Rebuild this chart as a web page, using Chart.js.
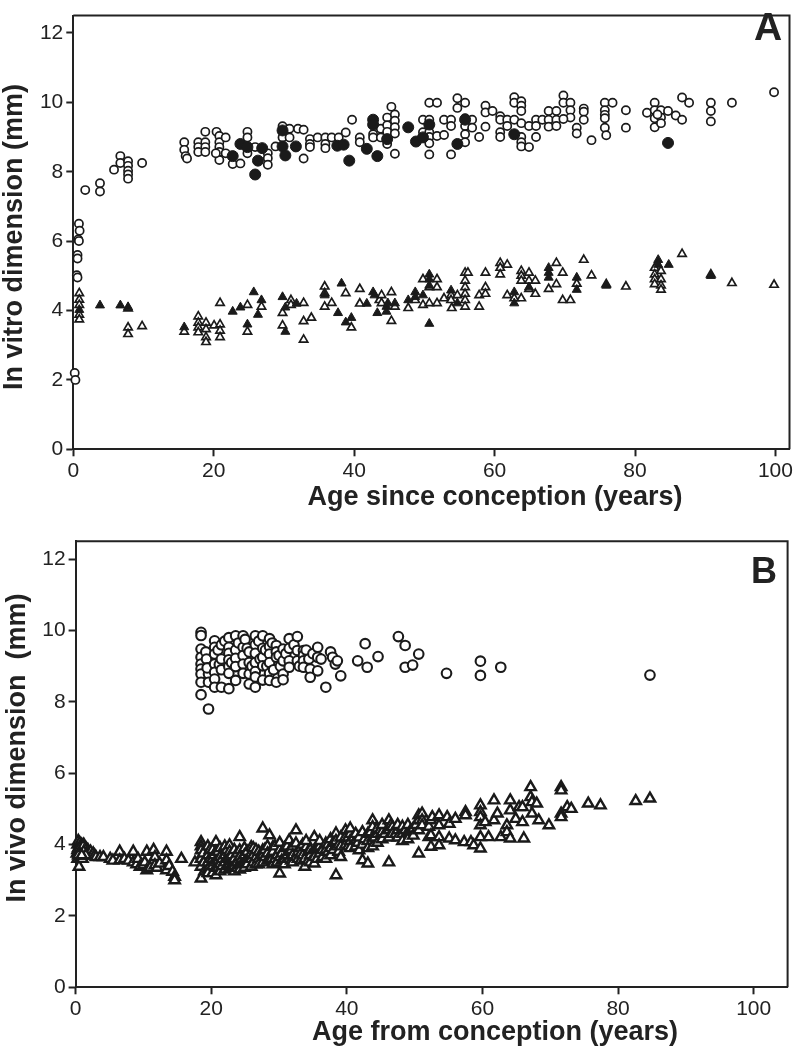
<!DOCTYPE html>
<html>
<head>
<meta charset="utf-8">
<script src="https://cdn.jsdelivr.net/npm/chart.js@4"></script>
<style>
  body { margin: 0; background: #fff; }
  canvas { position: absolute; left: 0; }
  #chartA { top: 0; }
  #chartB { top: 520px; }
</style>
</head>
<body>
<canvas id="chartA" width="796" height="515"></canvas>
<canvas id="chartB" width="796" height="530"></canvas>
<script>
/* panel A - in vitro, [age, mm] */
const vitroOpenCircles = [
  [0.8, 6.5], [0.9, 6.3], [0.7, 6.05], [0.8, 6.0], [0.6, 5.6], [0.6, 5.5], [0.5, 5.02], [0.6, 4.95], [0.2, 2.2], [0.3, 2.0],
  [1.7, 7.47], [3.8, 7.67], [3.8, 7.43], [5.8, 8.06], [6.7, 8.45], [6.7, 8.25], [7.8, 8.3], [7.8, 8.17], [7.8, 8.03], [7.8, 7.92], [7.8, 7.8], [9.8, 8.25],
  [15.8, 8.85], [15.8, 8.63], [16.0, 8.45], [16.2, 8.38],
  [17.8, 8.85], [17.8, 8.71], [17.8, 8.57], [18.8, 9.15], [18.8, 8.85], [18.8, 8.71], [18.8, 8.57],
  [20.4, 9.15], [20.8, 9.03], [20.8, 8.85], [20.8, 8.71], [20.8, 8.57], [20.8, 8.34], [20.3, 8.53], [21.7, 8.99], [21.7, 8.53],
  [22.7, 8.22], [23.8, 8.24],
  [24.8, 9.15], [24.8, 8.99], [24.8, 8.66], [24.8, 8.53], [25.9, 8.71],
  [27.7, 8.53], [27.7, 8.39], [27.7, 8.2], [28.8, 8.73],
  [29.8, 9.31], [29.8, 9.15], [29.8, 8.99], [30.8, 9.24], [30.8, 8.99], [32.0, 9.24], [32.8, 9.21], [32.8, 8.38],
  [33.7, 8.94], [33.7, 8.8], [33.7, 8.71], [34.8, 8.99], [35.9, 8.99], [35.9, 8.8], [35.9, 8.68], [36.8, 8.99],
  [37.8, 8.99], [38.8, 9.13], [39.7, 9.5], [40.8, 8.99], [40.8, 8.85],
  [42.7, 9.08], [42.7, 8.99], [43.8, 8.99], [43.8, 9.24], [44.7, 9.56], [44.7, 9.34], [44.7, 9.15], [44.7, 8.8],
  [45.3, 9.87], [45.8, 9.65], [45.8, 9.47], [45.8, 9.28], [45.8, 9.1], [45.8, 8.52],
  [49.8, 9.5], [49.8, 9.14], [50.7, 9.5], [50.7, 9.32], [50.7, 9.14], [50.7, 9.0], [50.7, 8.82], [50.7, 8.5], [50.7, 9.99], [51.8, 9.99], [51.8, 9.03],
  [52.8, 9.5], [53.8, 9.5], [53.8, 9.32], [52.8, 9.06], [53.8, 8.5],
  [54.7, 10.12], [55.8, 9.99], [54.7, 9.84], [55.8, 9.54], [55.8, 9.32], [55.8, 9.08], [55.8, 8.85], [56.8, 9.5], [56.8, 9.27],
  [57.8, 9.0], [58.7, 9.9], [58.7, 9.71], [59.7, 9.75], [58.7, 9.3],
  [60.8, 9.6], [60.8, 9.5], [60.8, 9.14], [60.8, 9.0], [61.8, 9.5], [61.8, 9.32], [62.8, 10.15], [62.8, 9.99], [62.8, 9.5],
  [63.8, 10.03], [63.8, 9.9], [63.8, 9.75], [63.8, 9.4], [63.8, 9.0], [63.8, 8.85], [63.8, 8.73],
  [64.9, 8.71], [64.9, 9.32], [65.9, 9.5], [65.9, 9.32], [65.9, 9.0],
  [66.8, 9.5], [67.7, 9.75], [67.7, 9.5], [67.7, 9.3], [68.8, 9.75], [68.8, 9.5], [68.8, 9.32],
  [69.8, 10.2], [69.8, 9.99], [70.8, 9.99], [70.8, 9.77], [70.8, 9.56], [69.8, 9.52],
  [71.7, 9.27], [71.7, 9.1], [72.7, 9.82], [72.7, 9.73], [72.7, 9.5], [73.8, 8.91],
  [75.7, 9.99], [76.8, 9.99], [75.7, 9.77], [75.7, 9.64], [75.7, 9.54], [75.7, 9.27], [75.9, 9.05],
  [78.7, 9.77], [78.7, 9.27],
  [81.7, 9.7], [82.8, 9.99], [82.8, 9.77], [82.8, 9.54], [82.8, 9.28], [83.7, 9.77], [83.7, 9.56], [83.7, 9.4], [83.2, 9.65],
  [84.7, 9.75], [85.8, 9.62], [86.7, 10.14], [86.7, 9.5], [87.7, 9.99],
  [90.8, 9.99], [90.8, 9.75], [90.8, 9.45], [93.8, 9.99], [99.8, 10.29],
];

const vitroFilledCircles = [
  [22.7, 8.45], [23.8, 8.8], [24.8, 8.71], [25.9, 7.92], [26.3, 8.32], [26.9, 8.68], [29.8, 9.19], [29.8, 8.73], [30.2, 8.47],
  [31.7, 8.73], [37.6, 8.75], [38.5, 8.78], [39.3, 8.32], [41.8, 8.66], [42.7, 9.5], [42.7, 9.36], [43.3, 8.45], [44.7, 8.94],
  [47.7, 9.28], [48.8, 8.87], [49.8, 8.99], [50.7, 9.36], [54.7, 8.8], [55.8, 9.5], [62.8, 9.08], [84.7, 8.83],
];

const vitroOpenTriangles = [
  [0.85, 4.5], [0.85, 4.31], [0.85, 4.16], [0.85, 3.88], [0.85, 3.74],
  [7.8, 4.06], [7.8, 3.51], [7.8, 3.32], [9.8, 3.55],
  [15.8, 3.39], [17.8, 3.83], [17.8, 3.65], [17.8, 3.51], [17.8, 3.37], [18.9, 3.65], [18.9, 3.46], [18.9, 3.23], [18.9, 3.09],
  [20.05, 3.57], [20.9, 4.22], [20.9, 3.6], [20.9, 3.42], [20.9, 3.23],
  [24.8, 4.16], [24.8, 3.39], [26.8, 4.11], [29.8, 3.93], [29.8, 3.57], [31.0, 4.3], [31.0, 4.16], [32.8, 4.22], [32.8, 3.69], [32.8, 3.16], [33.9, 3.79],
  [35.8, 4.69], [35.8, 4.5], [35.8, 4.11], [36.8, 4.22], [38.8, 4.5], [39.6, 3.51], [40.8, 4.62], [40.8, 4.2],
  [43.6, 4.3], [45.3, 3.7], [45.3, 4.53],
  [43.9, 4.44], [43.9, 4.21], [45.8, 4.11], [47.7, 4.07], [48.7, 4.3], [49.8, 4.9], [49.8, 4.16], [50.7, 4.67], [50.7, 4.21],
  [51.8, 4.9], [51.8, 4.67], [51.8, 4.21], [52.8, 4.35], [53.8, 4.44], [53.8, 4.3], [53.9, 4.07], [54.7, 4.44],
  [55.8, 5.09], [55.8, 4.86], [55.8, 4.67], [55.8, 4.48], [55.8, 4.3], [55.8, 4.11], [56.2, 5.09], [57.8, 4.44], [57.8, 4.11],
  [58.7, 5.09], [58.7, 4.67], [58.7, 4.48], [60.8, 5.37], [60.8, 5.23], [60.8, 5.04], [61.8, 5.32], [61.8, 4.44], [62.8, 4.35],
  [63.8, 5.14], [63.8, 5.0], [63.8, 4.86], [63.8, 4.35], [64.9, 5.09], [64.9, 4.86], [64.9, 4.62], [65.8, 4.86], [65.8, 4.48],
  [67.7, 4.62], [68.8, 5.37], [68.8, 4.76], [69.7, 5.09], [69.7, 4.3], [70.8, 4.3], [71.7, 4.77], [72.7, 5.46], [73.8, 5.01],
  [75.9, 4.76], [78.7, 4.69], [82.8, 5.23], [82.8, 5.04], [82.8, 4.9], [82.8, 4.76], [83.7, 5.14], [83.7, 4.9], [83.7, 4.72], [83.7, 4.6],
  [86.7, 5.63], [90.8, 5.04], [93.8, 4.79], [99.8, 4.74],
];

const vitroFilledTriangles = [
  [0.85, 4.02], [3.8, 4.15], [6.7, 4.15], [7.8, 4.1], [15.8, 3.52], [22.7, 3.97], [23.8, 4.09], [24.8, 3.6], [25.7, 4.53], [26.3, 3.88],
  [26.8, 4.3], [29.8, 4.39], [30.2, 4.09], [30.2, 3.39], [31.8, 4.2], [35.8, 4.44], [37.7, 3.93], [38.2, 4.78], [38.8, 3.66], [39.6, 3.79],
  [41.8, 4.2], [42.7, 4.53], [42.9, 4.44], [43.3, 3.93], [44.6, 4.11], [44.6, 3.97],
  [44.8, 4.21], [45.8, 4.21], [47.7, 4.3], [48.7, 4.53], [48.7, 4.39], [49.8, 4.44], [50.7, 5.04], [50.7, 4.9], [50.7, 4.72], [50.7, 3.62],
  [53.8, 4.58], [54.7, 4.21], [62.8, 4.53], [62.8, 4.21], [64.9, 4.67], [67.7, 5.23], [67.7, 5.09], [67.7, 4.95], [71.7, 4.95], [71.7, 4.6],
  [75.9, 4.72], [83.3, 5.46], [83.3, 5.32], [84.8, 5.32], [90.8, 5.0],
];

/* panel B - in vivo, [age, mm] */
const vivoCircles = [
  [18.5, 9.95], [18.5, 9.86], [18.5, 9.48], [18.5, 9.25], [18.5, 9.06], [18.5, 8.92], [18.5, 8.78], [18.5, 8.55], [18.5, 8.2], [19.6, 7.8],
  [19.6, 9.3], [19.6, 9.06], [19.6, 8.78], [19.6, 8.55], [19.2, 9.4], [19.3, 9.2], [19.4, 8.95],
  [20.5, 9.71], [20.5, 9.53], [20.5, 9.34], [20.5, 9.06], [20.5, 8.83], [20.5, 8.64], [20.5, 8.41],
  [21.0, 9.45], [21.2, 9.05], [21.5, 9.6], [21.5, 9.2], [21.5, 8.9], [21.5, 8.41], [22.0, 9.7],
  [22.6, 9.8], [22.6, 9.53], [22.6, 9.36], [22.6, 9.18], [22.6, 8.99], [22.6, 8.8], [22.6, 8.37], [23.0, 9.1],
  [23.6, 9.85], [23.6, 9.45], [23.6, 9.22], [23.6, 8.99], [23.6, 8.6], [24.0, 9.65],
  [24.7, 9.85], [24.7, 9.53], [24.7, 9.3], [24.7, 9.06], [24.7, 8.8], [25.0, 9.75], [25.3, 9.5],
  [25.6, 9.4], [25.6, 9.1], [25.6, 8.78], [25.6, 8.5], [26.0, 9.0],
  [26.5, 9.85], [26.5, 9.6], [26.5, 9.36], [26.5, 9.1], [26.5, 8.85], [26.5, 8.7], [26.5, 8.41], [27.0, 9.7], [27.2, 9.2],
  [27.6, 9.85], [27.6, 9.5], [27.6, 9.25], [27.6, 9.01], [27.6, 8.61], [28.0, 9.45], [28.2, 9.0],
  [28.6, 9.77], [28.6, 9.55], [28.6, 9.34], [28.6, 9.1], [28.6, 8.8], [28.6, 8.6], [29.0, 9.65], [29.2, 8.9],
  [29.6, 9.58], [29.6, 9.4], [29.6, 9.25], [29.6, 8.55], [30.0, 9.3], [30.2, 9.0],
  [30.6, 9.48], [30.6, 9.15], [30.6, 8.78], [30.6, 8.62], [31.0, 9.35],
  [31.5, 9.77], [31.5, 9.5], [31.5, 9.15], [31.5, 8.97], [32.2, 9.6],
  [32.7, 9.83], [32.7, 9.44], [32.7, 9.15], [33.0, 9.0],
  [33.6, 9.44], [33.6, 9.3], [33.6, 9.15], [33.6, 8.97], [34.0, 9.45], [34.4, 9.2],
  [34.6, 8.92], [34.6, 8.69], [35.0, 9.35], [35.7, 9.53], [35.7, 9.25], [35.7, 8.87], [36.2, 9.2], [36.9, 8.41],
  [37.6, 9.4], [37.9, 9.25], [38.3, 9.06], [38.6, 9.15], [39.1, 8.73],
  [41.6, 9.15], [42.7, 9.63], [43.0, 8.97], [44.6, 9.27], [47.6, 9.83], [48.6, 9.58], [48.6, 8.97], [49.7, 9.03], [50.6, 9.34],
  [54.7, 8.8], [59.7, 9.14], [59.7, 8.74], [62.7, 8.97], [84.7, 8.75],
];

const vivoTriangles = [
  [0.2, 3.75], [0.3, 4.0], [0.3, 3.6], [0.4, 4.1], [0.4, 3.9], [0.5, 3.8], [0.5, 3.7], [0.5, 3.38], [0.6, 4.05], [0.7, 3.95],
  [0.7, 3.85], [0.8, 3.75], [0.8, 3.65], [0.9, 4.0], [1.0, 3.9], [1.0, 3.8], [1.0, 3.6], [1.1, 3.7], [1.2, 4.0], [1.3, 3.85],
  [1.4, 3.75], [1.5, 3.9], [1.6, 3.8], [1.7, 3.7], [1.8, 3.85], [2.0, 3.75], [2.2, 3.8], [2.4, 3.7], [2.6, 3.75],
  [0.3, 3.85], [0.6, 3.9], [0.9, 3.85], [1.1, 3.95], [0.6, 3.75], [1.2, 3.8], [1.5, 3.7], [0.4, 3.7], [0.9, 3.7], [2.8, 3.7], [3.0, 3.65],
  [3.6, 3.65], [4.1, 3.65], [5.1, 3.6], [5.5, 3.55], [6.5, 3.8], [6.5, 3.56], [7.2, 3.6], [7.8, 3.55], [8.5, 3.8], [8.5, 3.5],
  [9.0, 3.45], [9.2, 3.6], [9.5, 3.38], [10.0, 3.42], [10.2, 3.5], [10.5, 3.28], [10.5, 3.8], [11.0, 3.35], [11.5, 3.85],
  [11.7, 3.65], [11.7, 3.42], [12.0, 3.35], [12.4, 3.47], [13.4, 3.8], [13.4, 3.56], [13.4, 3.28], [13.8, 3.4], [14.3, 3.24],
  [14.6, 3.1], [14.6, 3.0], [15.6, 3.6],
  [17.6, 3.5], [18.5, 4.07], [18.5, 3.95], [18.5, 3.84], [18.5, 3.6], [18.5, 3.38], [18.5, 3.05], [18.8, 3.75], [18.9, 3.5], [19.0, 3.25],
  [19.5, 3.95], [19.5, 3.7], [19.5, 3.5], [19.5, 3.3], [19.5, 3.2], [19.8, 3.6], [19.8, 3.4], [19.8, 3.85],
  [20.2, 3.85], [20.2, 3.6], [20.2, 3.4], [20.2, 3.2], [20.4, 3.5], [20.4, 3.7],
  [20.7, 4.07], [20.7, 3.8], [20.7, 3.56], [20.7, 3.35], [20.7, 3.14], [21.0, 3.55], [21.0, 3.35], [21.0, 3.8],
  [21.3, 3.9], [21.3, 3.65], [21.3, 3.45], [21.3, 3.25], [21.6, 3.6], [21.6, 3.4],
  [22.0, 3.95], [22.0, 3.7], [22.0, 3.5], [22.0, 3.3], [22.3, 3.6], [22.3, 3.4], [22.3, 3.85],
  [22.7, 3.98], [22.7, 3.8], [22.7, 3.65], [22.7, 3.45], [22.7, 3.33], [23.0, 3.55], [23.0, 3.7], [23.0, 3.35],
  [23.4, 3.85], [23.4, 3.6], [23.4, 3.4], [23.4, 3.25], [23.8, 3.75], [23.8, 3.5], [23.8, 3.35],
  [24.2, 4.21], [24.2, 3.84], [24.2, 3.65], [24.2, 3.42], [24.2, 3.3], [24.5, 3.6], [24.5, 3.45],
  [24.9, 3.9], [24.9, 3.7], [24.9, 3.5], [24.9, 3.35], [25.3, 3.8], [25.3, 3.55], [25.3, 3.45],
  [25.9, 3.93], [25.9, 3.75], [25.9, 3.6], [25.9, 3.38], [26.2, 3.7], [26.2, 3.5], [26.2, 3.9],
  [26.6, 3.85], [26.6, 3.65], [26.6, 3.45], [27.0, 3.8], [27.0, 3.6], [27.0, 3.45],
  [27.6, 4.45], [27.6, 3.84], [27.6, 3.7], [27.6, 3.5], [27.9, 3.65], [27.9, 3.85],
  [28.3, 3.95], [28.3, 3.75], [28.3, 3.55], [28.6, 4.26], [28.6, 3.6], [28.9, 3.6], [28.9, 3.75],
  [29.1, 3.93], [29.1, 3.8], [29.1, 3.45], [29.4, 3.95], [29.4, 3.6], [29.7, 3.7], [29.7, 3.5],
  [30.1, 3.19], [30.1, 3.65], [30.1, 3.85], [30.1, 4.05], [30.4, 3.75], [30.4, 3.55],
  [30.8, 3.9], [30.8, 3.6], [30.8, 3.45], [31.2, 3.7], [31.2, 3.95], [31.5, 4.12], [31.5, 3.6], [31.5, 3.8], [31.8, 3.55], [31.8, 3.85],
  [32.0, 3.95], [32.0, 3.7], [32.0, 3.5], [32.5, 4.4], [32.5, 4.03], [32.5, 3.65], [32.8, 3.8], [32.8, 3.6],
  [33.2, 3.9], [33.2, 3.75], [33.2, 3.55], [33.5, 4.0], [33.5, 3.7], [33.8, 3.38], [33.8, 3.6], [34.0, 3.93], [34.0, 4.1],
  [34.3, 3.8], [34.3, 3.55], [34.6, 3.85], [34.6, 3.7], [34.6, 3.5], [35.2, 4.21], [35.2, 3.84], [35.2, 3.47], [35.2, 3.65],
  [35.6, 3.9], [35.6, 3.6], [36.0, 3.95], [36.0, 3.75], [36.0, 4.1], [36.4, 3.85], [36.4, 3.65], [36.9, 4.03], [36.9, 3.6], [36.9, 3.85],
  [37.2, 4.0], [37.2, 3.8], [37.6, 3.9], [37.6, 3.7], [37.6, 4.15], [38.0, 3.85], [38.0, 4.05],
  [38.4, 4.31], [38.4, 3.14], [38.4, 3.95], [38.4, 4.1], [38.8, 4.0], [38.8, 3.8],
  [39.1, 3.65], [39.1, 3.95], [39.1, 4.2], [39.8, 4.21], [39.8, 4.4], [39.8, 4.0], [40.2, 4.2], [40.2, 3.95],
  [40.5, 4.3], [40.5, 4.1], [40.5, 3.9], [40.5, 4.45], [41.0, 4.2], [41.3, 4.12], [41.3, 4.3], [41.3, 3.95], [41.6, 4.05],
  [41.8, 3.84], [41.8, 4.2], [42.3, 3.56], [42.3, 4.0], [42.3, 4.35], [42.6, 4.15], [43.1, 3.47], [43.1, 4.1], [43.1, 4.3], [43.1, 3.9],
  [43.5, 4.35], [43.8, 4.68], [43.8, 4.49], [43.8, 4.2], [43.8, 3.95], [44.1, 4.2], [44.5, 4.3], [44.5, 4.05], [44.5, 4.45],
  [44.9, 4.4], [45.2, 4.35], [45.2, 4.15], [45.2, 4.55], [45.6, 4.3], [46.2, 4.68], [46.2, 4.4], [46.2, 4.2], [46.2, 3.5],
  [46.5, 4.55], [46.7, 4.49], [46.7, 4.3], [47.2, 4.3],
  [47.5, 4.4], [47.5, 4.2], [47.5, 4.55], [48.2, 4.3], [48.2, 4.5], [48.2, 4.1], [48.6, 4.4], [49.0, 4.35], [49.0, 4.15], [49.0, 4.55],
  [49.4, 4.4], [49.8, 4.45], [49.8, 4.25], [50.2, 4.55], [50.6, 4.68], [50.6, 4.82], [50.6, 4.4], [50.6, 3.75], [51.1, 4.87], [51.1, 4.68], [51.1, 4.54],
  [52.1, 4.21], [52.1, 4.5], [52.4, 4.68], [52.4, 4.26], [52.4, 3.94], [52.6, 4.77],
  [53.6, 4.82], [53.6, 4.54], [53.6, 4.21], [53.6, 3.98], [54.8, 4.77], [55.1, 4.58], [55.1, 4.17], [56.0, 4.72], [56.0, 4.12],
  [57.3, 4.07], [57.5, 4.91], [57.5, 4.82], [58.3, 4.07], [58.7, 3.98],
  [59.7, 5.1], [59.7, 4.91], [59.7, 4.77], [59.7, 4.54], [59.7, 4.21], [59.7, 3.89], [60.4, 4.63], [60.9, 4.21],
  [61.7, 5.24], [61.7, 4.68], [62.2, 4.87], [62.7, 4.21], [63.6, 4.54], [63.6, 4.35], [64.1, 4.17], [64.1, 5.24], [64.1, 4.96],
  [64.9, 4.72], [65.4, 5.05], [65.9, 5.05], [65.9, 4.63], [66.1, 4.17], [67.1, 5.61], [67.1, 5.33], [67.3, 5.19], [67.3, 4.87],
  [68.0, 5.15], [68.3, 4.68], [69.8, 4.54], [71.6, 5.61], [71.6, 5.52], [71.6, 4.87], [71.6, 4.77], [72.5, 5.05], [73.1, 5.0],
  [75.6, 5.15], [77.4, 5.1], [82.6, 5.22], [84.7, 5.29],
];

const yTicksMax = 12.5;

/* common */
const axisColor = "#222";
const markColor = "#1a1a1a";
const fontFamily = "'Liberation Sans', Arial, Helvetica, sans-serif";

const toXY = (pts) => pts.map(([x, y]) => ({ x: x, y: y }));

const framePlugin = {
  id: "frame",
  beforeDatasetsDraw(chart) {
    const ctx = chart.ctx;
    const a = chart.chartArea;
    ctx.save();
    ctx.strokeStyle = axisColor;
    ctx.lineWidth = 2;
    ctx.beginPath();
    ctx.moveTo(a.left, a.top);
    ctx.lineTo(a.right, a.top);
    ctx.lineTo(a.right, a.bottom);
    ctx.stroke();
    ctx.restore();
  },
};

const panelTextPlugin = {
  id: "panelText",
  afterDraw(chart, args, opts) {
    const ctx = chart.ctx;
    ctx.save();
    ctx.fillStyle = axisColor;
    ctx.textAlign = "center";
    ctx.font = "bold 27px " + fontFamily;
    ctx.textBaseline = "alphabetic";
    ctx.fillText(opts.xTitle, opts.xTitleX, opts.xTitleY);

    ctx.save();
    ctx.translate(opts.yTitleX, opts.yTitleY);
    ctx.rotate(-Math.PI / 2);
    ctx.textBaseline = "middle";
    ctx.fillText(opts.yTitle, 0, 0);
    ctx.restore();

    ctx.font = "bold " + opts.letterSize + "px " + fontFamily;
    ctx.fillText(opts.letter, opts.letterX, opts.letterY);
    ctx.restore();
  },
};

function makeChart(id, cfg) {
  return new Chart(document.getElementById(id), {
    type: "scatter",
    data: { datasets: cfg.datasets },
    options: {
      responsive: false,
      animation: false,
      events: [],
      layout: { padding: cfg.padding },
      plugins: {
        legend: { display: false },
        tooltip: { enabled: false },
        panelText: cfg.text,
      },
      scales: {
        x: {
          type: "linear",
          min: 0,
          max: cfg.xMax,
          afterFit: (s) => { s.height = cfg.xAxisHeight; },
          border: { display: true, color: axisColor, width: 2 },
          grid: { drawOnChartArea: false, drawTicks: true, tickLength: 7, tickWidth: 2, tickColor: axisColor },
          ticks: {
            stepSize: 20, includeBounds: false, padding: 2, maxRotation: 0,
            color: axisColor, font: { family: fontFamily, size: 21 },
          },
        },
        y: {
          type: "linear",
          min: 0,
          max: yTicksMax,
          afterFit: (s) => { s.width = cfg.yAxisWidth; },
          border: { display: true, color: axisColor, width: 2 },
          grid: { drawOnChartArea: false, drawTicks: true, tickLength: 7, tickWidth: 2, tickColor: axisColor },
          ticks: {
            stepSize: 2, includeBounds: false, padding: 3,
            color: axisColor, font: { family: fontFamily, size: 21 },
          },
        },
      },
    },
    plugins: [framePlugin, panelTextPlugin],
  });
}

function openSet(pts, style, r, bw) {
  return {
    data: toXY(pts), pointStyle: style, pointRadius: r, borderWidth: bw,
    backgroundColor: "#fff", borderColor: markColor, clip: false,
  };
}
function filledSet(pts, style, r) {
  return {
    data: toXY(pts), pointStyle: style, pointRadius: r, borderWidth: 1,
    backgroundColor: markColor, borderColor: markColor, clip: false,
  };
}

// first dataset is drawn on top
makeChart("chartA", {
  xMax: 102,
  padding: { top: 1, right: 3, left: 0, bottom: 0 },
  yAxisWidth: 73.3,
  xAxisHeight: 65.7,
  datasets: [
    filledSet(vitroFilledCircles, "circle", 5.5),
    openSet(vitroOpenCircles, "circle", 4.1, 1.7),
    filledSet(vitroFilledTriangles, "triangle", 5.2),
    openSet(vitroOpenTriangles, "triangle", 4.8, 1.7),
  ],
  text: {
    xTitle: "Age since conception (years)", xTitleX: 495, xTitleY: 505,
    yTitle: "In vitro dimension (mm)", yTitleX: 15, yTitleY: 237,
    letter: "A", letterSize: 39, letterX: 768, letterY: 40,
  },
});

makeChart("chartB", {
  xMax: 105,
  padding: { top: 21.3, right: 7, left: 0, bottom: 0 },
  yAxisWidth: 75.6,
  xAxisHeight: 62.7,
  datasets: [
    openSet(vivoCircles, "circle", 4.8, 2.1),
    openSet(vivoTriangles, "triangle", 6, 2.4),
  ],
  text: {
    xTitle: "Age from conception (years)", xTitleX: 495, xTitleY: 520,
    yTitle: "In vivo dimension  (mm)", yTitleX: 18, yTitleY: 228,
    letter: "B", letterSize: 36, letterX: 764, letterY: 63,
  },
});
</script>
</body>
</html>
